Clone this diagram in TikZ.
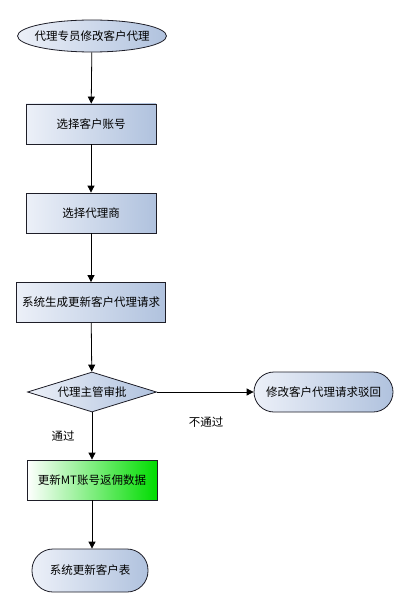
\documentclass[tikz,border=0pt]{standalone}
\usepackage{fontspec}
\newfontfamily\cjk{Noto Sans CJK SC}
\usetikzlibrary{shapes.geometric,arrows.meta}
\definecolor{paleblue}{RGB}{236,240,248}
\definecolor{deepblue}{RGB}{176,194,222}
\definecolor{brightgreen}{RGB}{0,220,0}
\definecolor{edgeline}{RGB}{30,30,40}
\begin{document}
\begin{tikzpicture}[x=1pt,y=-1pt,
  font=\cjk\fontsize{11.5}{13}\selectfont,
  base/.style={draw=edgeline,line width=0.8pt,left color=paleblue,right color=deepblue,inner sep=0pt},
  terminal/.style={base,ellipse,inner xsep=-20pt,inner ysep=-10pt,minimum width=149pt,minimum height=32pt},
  stepbox/.style={base,rectangle,minimum width=130pt,minimum height=40pt},
  roundbox/.style={base,rectangle,rounded corners=20pt,minimum height=40pt},
  decision/.style={base,diamond,aspect=3.2,inner xsep=-20pt,inner ysep=-10pt,minimum width=129pt,minimum height=40pt},
  flow/.style={line width=0.8pt,-{Triangle[length=7pt,width=7pt]}}]
\useasboundingbox (0,0) rectangle (409,604);
\fill[white] (0,0) rectangle (409,604);

\node[terminal] (start) at (92,36) {代理专员修改客户代理};
\node[stepbox] (acct) at (91,124) {选择客户账号};
\node[stepbox] (agent) at (91,213) {选择代理商};
\node[stepbox,minimum width=149pt] (req) at (91,302.5) {系统生成更新客户代理请求};
\node[decision] (approve) at (92,392) {代理主管审批};
\node[roundbox,minimum width=139pt] (reject) at (323.5,392) {修改客户代理请求驳回};
\node[stepbox,left color=white,right color=brightgreen] (update) at (92,480) {更新MT账号返佣数据};
\node[roundbox,minimum width=116pt,minimum height=43pt,rounded corners=21pt] (table) at (90,570.5) {系统更新客户表};

\node (nopass) at (206,422) {不通过};
\node (pass) at (63,436) {通过};

\draw[flow] (start) -- (acct);
\draw[flow] (acct) -- (agent);
\draw[flow] (agent) -- (req);
\draw[flow] (req) -- (approve);
\draw[flow] (approve) -- (reject);
\draw[flow] (approve) -- (update);
\draw[flow] (update.south) -- (table.north -| update.south);
\end{tikzpicture}
\end{document}
